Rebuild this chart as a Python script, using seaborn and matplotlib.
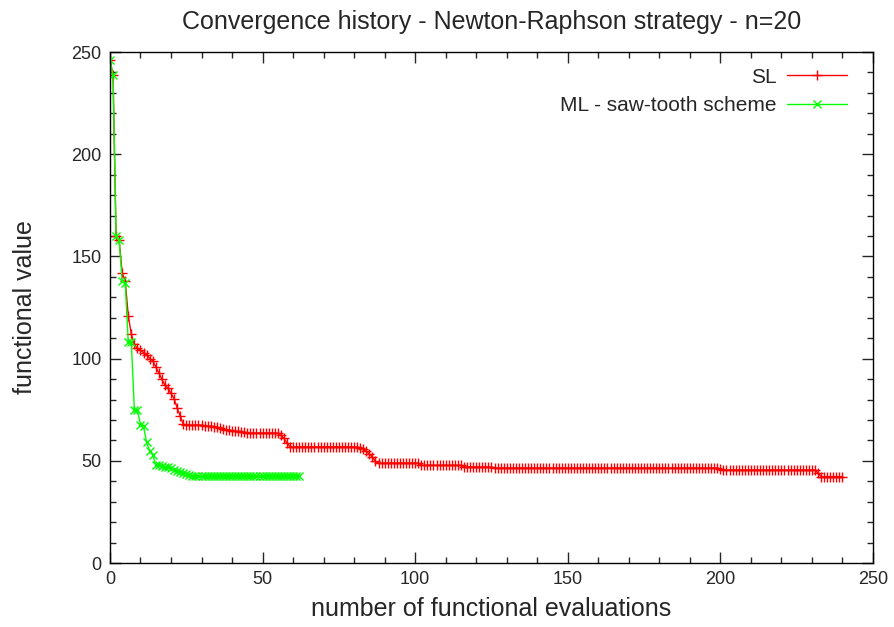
import matplotlib
matplotlib.use("Agg")
import matplotlib.pyplot as plt
from matplotlib.ticker import MultipleLocator
import seaborn as sns
import pandas as pd

sns.set_style("ticks")
plt.rcParams['font.family'] = ['Liberation Sans', 'DejaVu Sans']

title = "Convergence history - Newton-Raphson strategy - n=20"
xlabel = "number of functional evaluations"
ylabel = "functional value"
series_names = ["SL", "ML - saw-tooth scheme"]

sl_values = [
    246, 239, 160, 158, 142, 138, 121, 112, 107, 105,
    104, 103, 102, 100, 99, 96, 93, 90, 87, 85.5,
    83, 80.5, 76, 72, 68, 67.5, 67.5, 67.5, 67.5, 67.5,
    67.5, 67.2, 67, 67, 66.8, 66.5, 66, 65.5, 65, 65,
    64.8, 64.5, 64.5, 64.3, 64, 63.8, 63.6, 63.6, 63.6, 63.6,
    63.6, 63.6, 63.6, 63.6, 63.6, 63.6, 62.5, 61, 58.7, 57,
    56.8, 56.8, 56.8, 56.8, 56.8, 56.8, 56.8, 56.8, 56.8, 56.8,
    56.8, 56.8, 56.8, 56.8, 56.8, 56.8, 56.8, 56.8, 56.8, 56.8,
    56.8, 56.7, 56.5, 55.7, 54.6, 53.4, 51.8, 49.7, 48.9, 48.9,
    48.9, 48.9, 48.9, 48.9, 48.9, 48.9, 48.9, 48.9, 48.9, 48.9,
    48.9, 48.9, 47.8, 47.8, 47.8, 47.8, 47.8, 47.8, 47.8, 47.8,
    47.8, 47.8, 47.8, 47.8, 47.8, 47.8, 47, 47, 47, 47,
    47, 47, 47, 47, 47, 47, 46.5, 46.5, 46.5, 46.5,
    46.5, 46.5, 46.5, 46.5, 46.5, 46.5, 46.5, 46.5, 46.5, 46.5,
    46.5, 46.5, 46.5, 46.5, 46.5, 46.5, 46.5, 46.5, 46.5, 46.5,
    46.5, 46.5, 46.5, 46.5, 46.5, 46.5, 46.5, 46.5, 46.5, 46.5,
    46.5, 46.5, 46.5, 46.5, 46.5, 46.5, 46.5, 46.5, 46.5, 46.5,
    46.5, 46.5, 46.5, 46.5, 46.5, 46.5, 46.5, 46.5, 46.5, 46.5,
    46.5, 46.5, 46.5, 46.5, 46.5, 46.5, 46.5, 46.5, 46.5, 46.5,
    46.5, 46.5, 46.5, 46.5, 46.5, 46.5, 46.5, 46.5, 46.5, 46.5,
    45.8, 45.5, 45.5, 45.5, 45.5, 45.5, 45.5, 45.5, 45.5, 45.5,
    45.5, 45.5, 45.5, 45.5, 45.5, 45.5, 45.5, 45.5, 45.5, 45.5,
    45.5, 45.5, 45.5, 45.5, 45.5, 45.5, 45.5, 45.5, 45.5, 45.5,
    45.5, 45.5, 44, 42.3, 42.3, 42.3, 42.3, 42.3, 42.3, 42.3,
    42.3,
]

ml_values = [
    246, 239, 160, 158, 138, 137, 108, 108, 75, 75,
    67.5, 67, 59, 55, 53, 48, 48, 47.5, 47, 47,
    46.5, 45.5, 45, 44.5, 44, 43.5, 43, 42.5, 42.5, 42.5,
    42.5, 42.5, 42.5, 42.5, 42.5, 42.5, 42.5, 42.5, 42.5, 42.5,
    42.5, 42.5, 42.5, 42.5, 42.5, 42.5, 42.5, 42.5, 42.5, 42.5,
    42.5, 42.5, 42.5, 42.5, 42.5, 42.5, 42.5, 42.5, 42.5, 42.5,
    42.5, 42.5, 42.5,
]

sl_df = pd.DataFrame({"evals": list(range(len(sl_values))), "value": sl_values})
ml_df = pd.DataFrame({"evals": list(range(len(ml_values))), "value": ml_values})

red = "#ff0000"
green = "#00ff00"

fig = plt.figure(figsize=(8.94, 6.27), dpi=100)
ax = fig.add_axes([0.123, 0.102, 0.8535, 0.815])

sns.lineplot(data=sl_df, x="evals", y="value", ax=ax, color=red,
             marker="+", markersize=6.5, markeredgewidth=1.0,
             markeredgecolor=red, markerfacecolor=red, linewidth=1.0,
             label=series_names[0])
sns.lineplot(data=ml_df, x="evals", y="value", ax=ax, color=green,
             marker="x", markersize=6, markeredgewidth=1.0,
             markeredgecolor=green, markerfacecolor=green, linewidth=1.0,
             label=series_names[1])

ax.set_xlim(0, 250)
ax.set_ylim(0, 250)
ax.xaxis.set_major_locator(MultipleLocator(50))
ax.xaxis.set_minor_locator(MultipleLocator(10))
ax.yaxis.set_major_locator(MultipleLocator(50))
ax.yaxis.set_minor_locator(MultipleLocator(10))
ax.tick_params(which="both", direction="in", top=True, right=True, labelsize=13, width=1.0)
ax.tick_params(which="major", length=8, pad=6)
ax.tick_params(which="minor", length=4)
for s in ax.spines.values():
    s.set_visible(True)
    s.set_linewidth(1.0)
    s.set_color("black")

ax.set_title(title, fontsize=18, pad=16.5)
ax.set_xlabel(xlabel, fontsize=18, labelpad=6)
ax.set_ylabel(ylabel, fontsize=18, labelpad=25)

ax.legend(loc="upper right", bbox_to_anchor=(0.977, 0.9855), frameon=False,
          markerfirst=False, fontsize=15, handlelength=2.9, handletextpad=0.5,
          labelspacing=0.45, borderaxespad=0.0)

fig.savefig("out.png", dpi=100)
